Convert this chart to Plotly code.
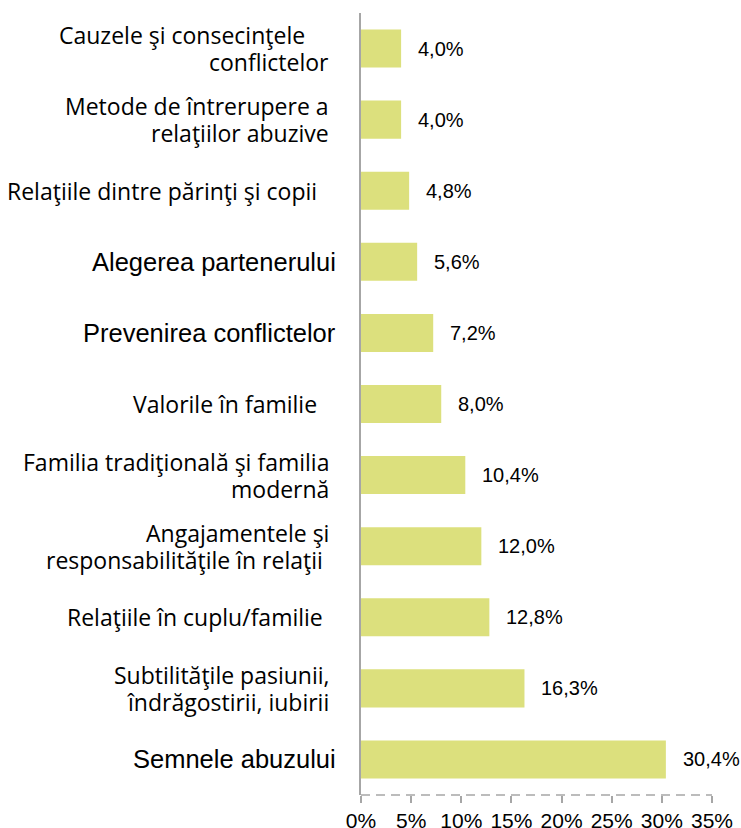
import plotly.graph_objects as go

categories = [
    "Cauzele şi consecinţele&nbsp;&nbsp;&nbsp;&nbsp;<br>conflictelor",
    "Metode de întrerupere a<br>relaţiilor abuzive",
    "Relaţiile dintre părinţi şi copii&nbsp;&nbsp;",
    "Alegerea partenerului",
    "Prevenirea conflictelor",
    "Valorile în familie&nbsp;&nbsp;",
    "Familia tradiţională şi familia<br>modernă",
    "Angajamentele şi<br>responsabilităţile în relaţii&nbsp;",
    "Relaţiile în cuplu/familie&nbsp;",
    "Subtilităţile pasiunii,<br>îndrăgostirii, iubirii",
    "Semnele abuzului",
]
values = [4.0, 4.0, 4.8, 5.6, 7.2, 8.0, 10.4, 12.0, 12.8, 16.3, 30.4]
value_labels = ["4,0%", "4,0%", "4,8%", "5,6%", "7,2%", "8,0%", "10,4%", "12,0%", "12,8%", "16,3%", "30,4%"]
arial_style = [False, False, False, True, True, False, False, False, False, False, True]
tick_vals = [0, 5, 10, 15, 20, 25, 30, 35]
tick_text = ["0%", "5%", "10%", "15%", "20%", "25%", "30%", "35%"]

ids = list(range(len(categories)))

fig = go.Figure()
fig.add_trace(go.Bar(
    x=values, y=ids, orientation="h",
    marker=dict(color="#DCE07D", line=dict(width=0)),
    hoverinfo="skip",
))

annotations = []
line_gap = 27
for i, (cat, v, lab, ar) in enumerate(zip(categories, values, value_labels, arial_style)):
    if ar:
        f = dict(family="Liberation Sans, Arial, sans-serif", size=25.5, color="#000000")
        xs = -23
    else:
        f = dict(family="Open Sans, sans-serif", size=23, color="#000000")
        xs = -30
    lines = cat.split("<br>")
    n = len(lines)
    for k, ln in enumerate(lines):
        annotations.append(dict(
            x=0, y=i, xref="x", yref="y", text=ln, showarrow=False,
            xanchor="right", yanchor="middle", align="right", xshift=xs,
            yshift=((n - 1) / 2 - k) * line_gap,
            font=f,
        ))
    annotations.append(dict(
        x=v, y=i, xref="x", yref="y", text=lab, showarrow=False,
        xanchor="left", yanchor="middle", xshift=15,
        font=dict(family="Liberation Sans, Arial, sans-serif", size=20, color="#000000"),
    ))

fig.update_layout(
    width=741, height=828,
    margin=dict(l=361, r=29, t=13, b=33),
    paper_bgcolor="white", plot_bgcolor="white",
    bargap=0.465,
    showlegend=False,
    annotations=annotations,
    xaxis=dict(
        range=[0, 35], tickvals=tick_vals, ticktext=tick_text,
        showgrid=False, zeroline=False, showline=False,
        ticks="outside", ticklen=7, tickwidth=1.5, tickcolor="#A6A6A6",
        ticklabelstandoff=0, automargin=False,
        tickfont=dict(family="Liberation Sans, Arial, sans-serif", size=21, color="#000000"),
        fixedrange=True,
    ),
    yaxis=dict(
        tickvals=ids, showticklabels=False, ticks="",
        autorange="reversed", automargin=False,
        showgrid=False, zeroline=False,
        showline=True, linecolor="#A6A6A6", linewidth=2,
        fixedrange=True,
    ),
    shapes=[dict(
        type="line", xref="x", yref="paper", x0=0, x1=35, y0=0, y1=0,
        line=dict(color="#A6A6A6", width=1.5, dash="9px,6px"),
    )],
)

fig.write_html(
    "out.html",
    config={"displayModeBar": False},
    post_script="document.body.style.margin='0';document.body.style.overflow='hidden';",
)
